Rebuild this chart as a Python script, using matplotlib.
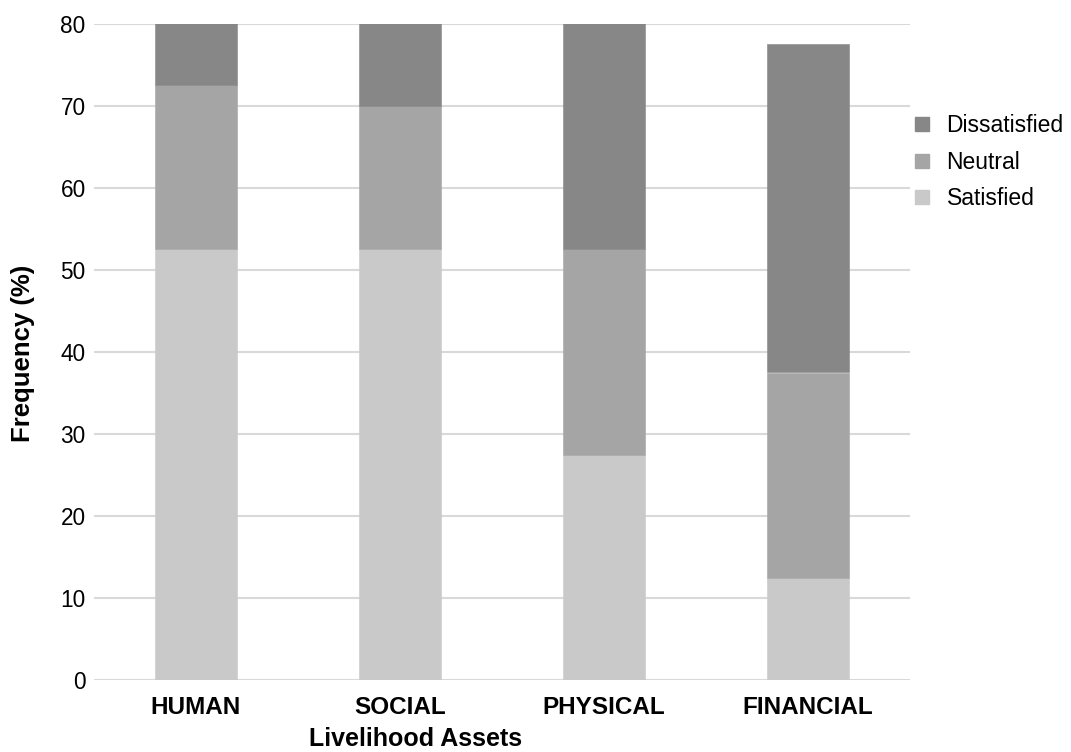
import numpy as np
import matplotlib.pyplot as plt
from matplotlib.lines import Line2D

plt.rcParams['font.family'] = ['Liberation Sans', 'DejaVu Sans']

# data
assets = ['HUMAN', 'SOCIAL', 'PHYSICAL', 'FINANCIAL']
satisfied = [52.5, 52.5, 27.5, 12.5]
neutral = [20.0, 17.5, 25.0, 25.0]
dissatisfied = [27.5, 30.0, 47.5, 40.0]

c_sat = '#c9c9c9'
c_neu = '#a5a5a5'
c_dis = '#878787'

fig = plt.figure(figsize=(10.71, 7.52), dpi=100)
ax = fig.add_axes([94 / 1071, (752 - 680) / 752, 816 / 1071, 656 / 752])

x = np.arange(len(assets))
w = 0.4
bottom2 = np.array(satisfied) + np.array(neutral)
# edge in the same colour hides the antialiasing seam between stacks
ax.bar(x, satisfied, w, color=c_sat, edgecolor=c_sat, linewidth=0.4, zorder=2)
ax.bar(x, neutral, w, bottom=satisfied, color=c_neu, edgecolor=c_neu,
       linewidth=0.4, zorder=2)
ax.bar(x, dissatisfied, w, bottom=bottom2, color=c_dis, edgecolor=c_dis,
       linewidth=0.4, zorder=2)

ax.set_xlim(-0.5, 3.5)
ax.set_ylim(0, 80)
ax.set_yticks(range(0, 81, 10))
ax.grid(axis='y', color='#d9d9d9', linewidth=1.5, zorder=0)
ax.set_axisbelow(True)
for s in ax.spines.values():
    s.set_visible(False)
ax.tick_params(axis='both', length=0)
ax.tick_params(axis='y', labelsize=16.3, pad=6)
ax.set_xticks(x)
ax.set_xticklabels(assets, fontsize=17.5, fontweight='bold')
ax.tick_params(axis='x', pad=11.5)

# axis titles placed as in the reference
fig.text(416 / 1071, 1 - 746 / 752, 'Livelihood Assets', fontsize=18,
         fontweight='bold', ha='center', va='baseline')
fig.text(23 / 1071, 1 - 353 / 752, 'Frequency (%)', fontsize=18.5,
         fontweight='bold', ha='center', va='center', rotation=90)

handles = [Line2D([], [], marker='s', linestyle='none', markersize=10.5, color=c)
           for c in (c_dis, c_neu, c_sat)]
fig.legend(handles, ['Dissatisfied', 'Neutral', 'Satisfied'],
           loc='upper left', bbox_to_anchor=(911 / 1071, 1 - 114 / 752),
           borderaxespad=0, borderpad=0,
           frameon=False, fontsize=16.5, handletextpad=0.55, labelspacing=0.59,
           handlelength=1.0)

fig.savefig('out.png', dpi=100)
